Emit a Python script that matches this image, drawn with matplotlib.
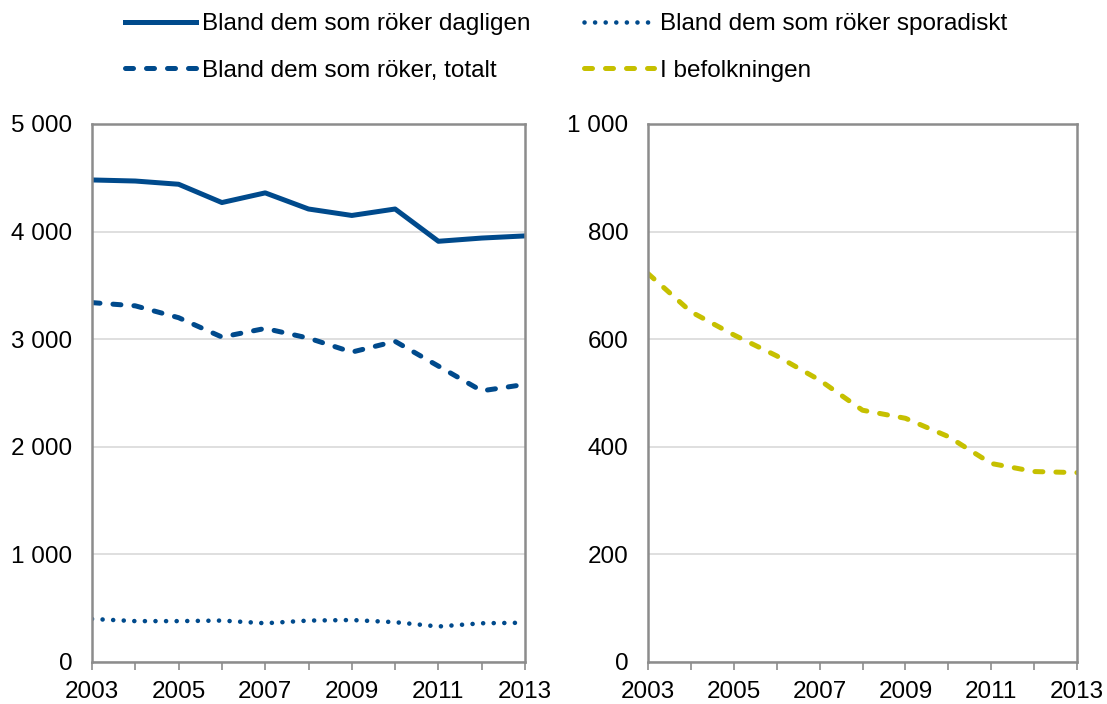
import matplotlib
matplotlib.use("Agg")
import matplotlib.pyplot as plt

plt.rcParams['font.family'] = ['Liberation Sans', 'DejaVu Sans']

years = list(range(2003, 2014))
dagligen = [4480, 4470, 4440, 4270, 4360, 4210, 4150, 4210, 3910, 3940, 3960]
totalt = [3340, 3310, 3200, 3020, 3100, 3010, 2880, 2980, 2750, 2520, 2580]
sporadiskt = [400, 380, 380, 385, 360, 385, 390, 370, 330, 360, 365]
befolkningen = [722, 651, 608, 569, 524, 468, 453, 419, 369, 354, 352]

left_yticks = [0, 1000, 2000, 3000, 4000, 5000]
left_ylabels = ["0", "1 000", "2 000", "3 000", "4 000", "5 000"]
right_yticks = [0, 200, 400, 600, 800, 1000]
right_ylabels = ["0", "200", "400", "600", "800", "1 000"]
xlabels = ["2003", "", "2005", "", "2007", "", "2009", "", "2011", "", "2013"]

labels = ["Bland dem som röker dagligen", "Bland dem som röker, totalt",
          "Bland dem som röker sporadiskt", "I befolkningen"]

blue = "#004a8c"
yellow = "#c6c000"
spine_c = "#8c8c8c"
grid_c = "#d9d9d9"
fs = 17.5

fig = plt.figure(figsize=(11.07, 7.04), dpi=100)
ax1 = fig.add_axes([92/1107, 1-662/704, (525-92)/1107, (662-124)/704])
ax2 = fig.add_axes([648/1107, 1-662/704, (1077-648)/1107, (662-124)/704])

l1, = ax1.plot(years, dagligen, color=blue, lw=3.6, solid_joinstyle='round')
l2, = ax1.plot(years, totalt, color=blue, lw=3.6, ls=(0, (1.6, 2.6)), dash_capstyle='round')
l3, = ax1.plot(years, sporadiskt, color=blue, lw=3.3, ls=(0, (0.01, 2.3)), dash_capstyle='round')
l4, = ax2.plot(years, befolkningen, color=yellow, lw=3.6, ls=(0, (1.6, 2.6)), dash_capstyle='round')

for ax, yt, yl, ymax in [(ax1, left_yticks, left_ylabels, 5000), (ax2, right_yticks, right_ylabels, 1000)]:
    ax.set_xlim(2003, 2013)
    ax.set_ylim(0, ymax)
    ax.set_yticks(yt)
    ax.set_yticklabels(yl, fontsize=fs)
    ax.set_xticks(years)
    ax.set_xticklabels(xlabels, fontsize=fs)
    ax.tick_params(axis='y', length=0, pad=14)
    ax.tick_params(axis='x', length=6, width=1.2, color=spine_c, pad=8, direction='out')
    ax.grid(axis='y', color=grid_c, lw=1.2)
    ax.set_axisbelow(True)
    for s in ax.spines.values():
        s.set_color(spine_c)
        s.set_linewidth(1.8)

fig.legend([l1, l2, l3, l4], labels, ncol=2, loc='upper left',
           bbox_to_anchor=(112/1107, 1.0), frameon=False, fontsize=fs,
           handlelength=2.9, handletextpad=0.25, columnspacing=2.2,
           labelspacing=1.0, borderaxespad=0.15)

fig.savefig("out.png", dpi=100)
